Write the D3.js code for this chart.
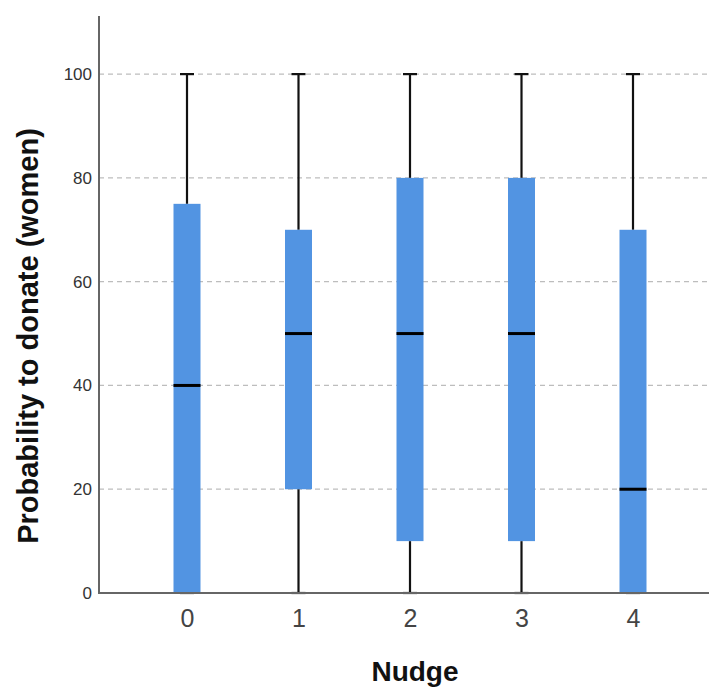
<!DOCTYPE html>
<html><head><meta charset="utf-8">
<script src="https://cdn.jsdelivr.net/npm/d3@7"></script>
<style>body{margin:0;background:#fff}svg{display:block}</style>
</head><body>
<svg id="c" width="709" height="688"></svg>
<script>
const categories = ["0","1","2","3","4"];
const mins    = [0, 0, 0, 0, 0];
const q1s     = [0, 20, 10, 10, 0];
const medians = [40, 50, 50, 50, 20];
const q3s     = [75, 70, 80, 80, 70];
const maxs    = [100, 100, 100, 100, 100];
const yTicks  = [0, 20, 40, 60, 80, 100];

(function(){
const svg = d3.select("#c");
const mLeft = 99, mRight = 709, mTop = 16, mBottom = 593;
const y = d3.scaleLinear().domain([0, 111.2]).range([mBottom, mTop]);
const x = d3.scalePoint().domain(categories).range([187, 633]);
const boxW = 27, capW = 14;
const font = "Arial, 'Liberation Sans', sans-serif";

svg.append("g").selectAll("line").data(yTicks.filter(d => d > 0)).join("line")
  .attr("x1", mLeft).attr("x2", mRight)
  .attr("y1", d => y(d)).attr("y2", d => y(d))
  .attr("stroke", "#bdbdbd").attr("stroke-width", 1.2).attr("stroke-dasharray", "5,4");

const data = categories.map((c, i) => ({c, min: mins[i], q1: q1s[i], med: medians[i], q3: q3s[i], max: maxs[i]}));

const g = svg.append("g").selectAll("g").data(data).join("g");
g.append("line").attr("x1", d => x(d.c)).attr("x2", d => x(d.c))
  .attr("y1", d => y(d.max)).attr("y2", d => y(d.q3)).attr("stroke", "#111").attr("stroke-width", 2.2);
g.append("line").attr("x1", d => x(d.c)).attr("x2", d => x(d.c))
  .attr("y1", d => y(d.q1)).attr("y2", d => y(d.min)).attr("stroke", "#111").attr("stroke-width", 2.2);
g.append("line").attr("x1", d => x(d.c) - capW/2).attr("x2", d => x(d.c) + capW/2)
  .attr("y1", d => y(d.max)).attr("y2", d => y(d.max)).attr("stroke", "#111").attr("stroke-width", 2.2);
g.append("line").attr("x1", d => x(d.c) - capW/2).attr("x2", d => x(d.c) + capW/2)
  .attr("y1", d => y(d.min)).attr("y2", d => y(d.min)).attr("stroke", "#111").attr("stroke-width", 2.2);
g.append("rect").attr("x", d => x(d.c) - boxW/2).attr("width", boxW)
  .attr("y", d => y(d.q3)).attr("height", d => y(d.q1) - y(d.q3))
  .attr("fill", "#5294e2");
g.append("line").attr("x1", d => x(d.c) - boxW/2).attr("x2", d => x(d.c) + boxW/2)
  .attr("y1", d => y(d.med)).attr("y2", d => y(d.med)).attr("stroke", "#000").attr("stroke-width", 3);

const yAxis = svg.append("g").attr("transform", `translate(${mLeft},0)`)
  .call(d3.axisLeft(y).tickValues(yTicks).tickSize(0).tickPadding(7));
yAxis.select(".domain").remove();
yAxis.selectAll("text").attr("font-family", font).attr("font-size", 17).attr("fill", "#333");
svg.append("line").attr("x1", mLeft).attr("x2", mLeft).attr("y1", mTop).attr("y2", mBottom)
  .attr("stroke", "#666").attr("stroke-width", 2);

const xAxis = svg.append("g").attr("transform", `translate(0,${mBottom})`)
  .call(d3.axisBottom(x).tickSize(0).tickPadding(16));
xAxis.select(".domain").remove();
xAxis.selectAll("text").attr("font-family", font).attr("font-size", 25).attr("fill", "#444");
svg.append("line").attr("x1", mLeft - 1).attr("x2", mRight).attr("y1", mBottom).attr("y2", mBottom)
  .attr("stroke", "#666").attr("stroke-width", 2);

svg.append("text").attr("x", 415).attr("y", 681).attr("text-anchor", "middle")
  .attr("font-family", font).attr("font-weight", "bold").attr("font-size", 28).attr("fill", "#111")
  .text("Nudge");
svg.append("text").attr("transform", "translate(38,336) rotate(-90)").attr("text-anchor", "middle")
  .attr("font-family", font).attr("font-weight", "bold").attr("font-size", 29).attr("fill", "#111")
  .text("Probability to donate (women)");
})();
</script>
</body></html>
